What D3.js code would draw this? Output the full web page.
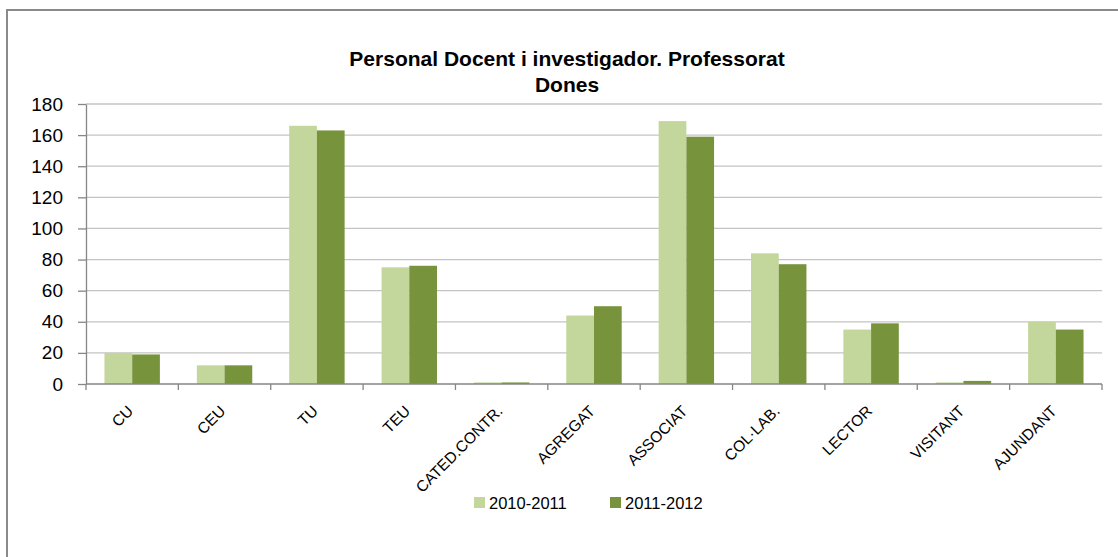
<!DOCTYPE html>
<html>
<head>
<meta charset="utf-8">
<script src="https://cdn.jsdelivr.net/npm/d3@7"></script>
<style>
  body { margin: 0; background: #ffffff; }
  svg text { font-family: "Liberation Sans", Arial, sans-serif; fill: #000000; }
</style>
</head>
<body>
<svg id="chart" width="1118" height="557"></svg>
<script>
// chart values
const categories = ['CU', 'CEU', 'TU', 'TEU', 'CATED.CONTR.', 'AGREGAT', 'ASSOCIAT', 'COL·LAB.', 'LECTOR', 'VISITANT', 'AJUNDANT'];
const series_names = ['2010-2011', '2011-2012'];
const values_2010_2011 = [20, 12, 166, 75, 1, 44, 169, 84, 35, 1, 40];
const values_2011_2012 = [19, 12, 163, 76, 1, 50, 159, 77, 39, 2, 35];
const y_ticks = [0, 20, 40, 60, 80, 100, 120, 140, 160, 180];
const title_lines = ['Personal Docent i investigador. Professorat', 'Dones'];

const colors = {'2010-2011': '#c3d69b', '2011-2012': '#77933c'};

const svg = d3.select('#chart');
const margin = {top: 104, right: 16, bottom: 173, left: 86};
const width = +svg.attr('width') - margin.left - margin.right;
const height = +svg.attr('height') - margin.top - margin.bottom;

// white background and chart border
svg.append('rect').attr('width', 1118).attr('height', 557).attr('fill', '#ffffff');
svg.append('rect')
    .attr('x', 7).attr('y', 10)
    .attr('width', 1130).attr('height', 600)
    .attr('fill', 'none')
    .attr('stroke', '#8a8a8a')
    .attr('stroke-width', 2);

const x0 = d3.scaleBand().domain(categories).range([0, width]).paddingInner(0.4).paddingOuter(0.2);
const x1 = d3.scaleBand().domain(series_names).range([0, x0.bandwidth()]);
const y = d3.scaleLinear().domain([0, 180]).range([height, 0]);

const g = svg.append('g').attr('transform', 'translate(' + margin.left + ',' + margin.top + ')');

// gridlines
g.append('g')
    .selectAll('line')
    .data(y_ticks.filter((t) => t > 0))
    .enter().append('line')
    .attr('x1', 0).attr('x2', width)
    .attr('y1', (d) => y(d)).attr('y2', (d) => y(d))
    .attr('stroke', '#c4c4c4')
    .attr('stroke-width', 1.3);

// bars
const table = categories.map((c, i) => ({cat: c, vals: [
    {name: series_names[0], val: values_2010_2011[i]},
    {name: series_names[1], val: values_2011_2012[i]}
]}));

g.append('g')
    .selectAll('g')
    .data(table)
    .enter().append('g')
    .attr('transform', (d) => 'translate(' + x0(d.cat) + ',0)')
    .selectAll('rect')
    .data((d) => d.vals)
    .enter().append('rect')
    .attr('x', (d) => x1(d.name))
    .attr('y', (d) => y(d.val))
    .attr('width', x1.bandwidth())
    .attr('height', (d) => height - y(d.val))
    .attr('fill', (d) => colors[d.name]);

// y axis
const yAxis = g.append('g')
    .call(d3.axisLeft(y).tickValues(y_ticks).tickSize(8).tickPadding(15).tickSizeOuter(0));
yAxis.select('.domain').attr('stroke', '#868686').attr('stroke-width', 1.3);
yAxis.selectAll('.tick line').attr('stroke', '#868686').attr('stroke-width', 1.3);
yAxis.selectAll('.tick text')
    .style('font-size', '19px')
    .style('font-family', '"Liberation Sans", Arial, sans-serif')
    .attr('fill', '#000');

// x axis (ticks between categories)
const step = x0.step();
const bounds = d3.range(categories.length + 1).map((i) => i * step);
g.append('line')
    .attr('x1', 0).attr('x2', width)
    .attr('y1', height).attr('y2', height)
    .attr('stroke', '#868686').attr('stroke-width', 1.3);
g.append('g')
    .selectAll('line')
    .data(bounds)
    .enter().append('line')
    .attr('x1', (d) => d).attr('x2', (d) => d)
    .attr('y1', height).attr('y2', height + 6)
    .attr('stroke', '#868686').attr('stroke-width', 1.3);

g.append('g')
    .selectAll('text')
    .data(categories)
    .enter().append('text')
    .attr('transform', (d) => 'translate(' + (x0(d) + x0.bandwidth() / 2 + 2) + ',' + (height + 28) + ') rotate(-45)')
    .attr('text-anchor', 'end')
    .style('font-size', '15.5px')
    .text((d) => d);

// title
svg.append('g')
    .selectAll('text')
    .data(title_lines)
    .enter().append('text')
    .attr('x', 567)
    .attr('y', (d, i) => 66 + i * 26)
    .attr('text-anchor', 'middle')
    .style('font-size', '21px')
    .style('font-weight', 'bold')
    .text((d) => d);

// legend
const legend_x = [474, 610];
const legend = svg.append('g')
    .selectAll('g')
    .data(series_names)
    .enter().append('g')
    .attr('transform', (d, i) => 'translate(' + legend_x[i] + ',497)');
legend.append('rect')
    .attr('width', 11).attr('height', 11)
    .attr('fill', (d) => colors[d]);
legend.append('text')
    .attr('x', 15).attr('y', 11.5)
    .style('font-size', '16.5px')
    .text((d) => d);
</script>
</body>
</html>
